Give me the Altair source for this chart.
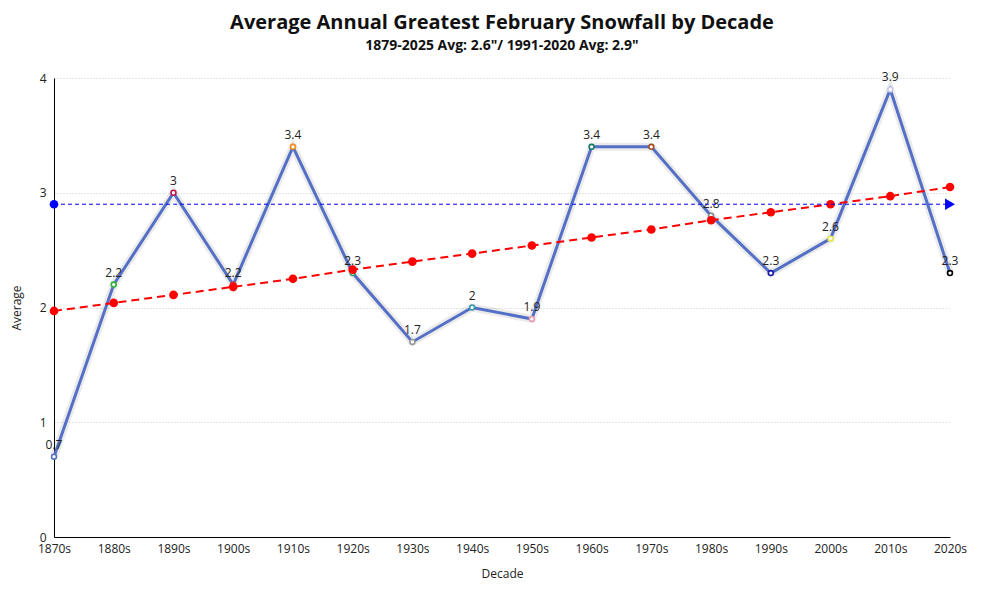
import altair as alt
import pandas as pd

decades = ["1870s", "1880s", "1890s", "1900s", "1910s", "1920s", "1930s", "1940s",
           "1950s", "1960s", "1970s", "1980s", "1990s", "2000s", "2010s", "2020s"]
averages = [0.7, 2.2, 3.0, 2.2, 3.4, 2.3, 1.7, 2.0, 1.9, 3.4, 3.4, 2.8, 2.3, 2.6, 3.9, 2.3]
trend = [1.97, 2.04, 2.11, 2.18, 2.25, 2.33, 2.40, 2.47, 2.54, 2.61, 2.68, 2.76,
         2.83, 2.90, 2.97, 3.05]
normal_value = 2.9
point_colors = ["#5470c6", "#33b233", "#c0144c", "#d04040", "#f08c1e", "#3a9a6a",
                "#999999", "#3399aa", "#e899b0", "#1e7a6a", "#a0522d", "#888888",
                "#1a1aa6", "#e6e64c", "#c8c8e8", "#000000"]

df = pd.DataFrame({
    "decade": decades,
    "avg": averages,
    "trend": trend,
    "normal": [normal_value] * len(decades),
})
df["label"] = [format(v, "g") for v in averages]

FONT = "Open Sans"

x = alt.X("decade:N", sort=decades,
          scale=alt.Scale(type="point", padding=0),
          axis=alt.Axis(title="Decade", labelAngle=0, ticks=False, grid=False,
                        domainColor="black", labelPadding=6, titlePadding=14,
                        labelFontSize=12, titleFontSize=12, titleFontWeight="normal",
                        labelColor="#222", titleColor="#222", labelFont=FONT, titleFont=FONT))
yscale = alt.Scale(domain=[0, 4], nice=False, zero=True)
yaxis = alt.Axis(title="Average", values=[0, 1, 2, 3, 4], format="d", ticks=False,
                 domainColor="black", gridColor="#cccccc", gridDash=[1, 2],
                 labelPadding=8, titlePadding=16,
                 labelFontSize=12, titleFontSize=12, titleFontWeight="normal",
                 labelColor="#222", titleColor="#222", labelFont=FONT, titleFont=FONT)

base = alt.Chart(df)

shadow = base.mark_line(color="#000000", strokeWidth=8, opacity=0.08).encode(
    x=x, y=alt.Y("avg:Q", scale=yscale, axis=yaxis))
main_line = base.mark_line(color="#5470c6", strokeWidth=3).encode(
    x=x, y=alt.Y("avg:Q", scale=yscale))
main_points = base.mark_point(shape="circle", fill="white", fillOpacity=1, strokeWidth=1.6,
                              size=24, opacity=1).encode(
    x=x, y=alt.Y("avg:Q", scale=yscale),
    stroke=alt.Stroke("decade:N", scale=alt.Scale(domain=decades, range=point_colors),
                      legend=None))
labels = base.mark_text(dy=-12, fontSize=12, color="#222", font=FONT).encode(
    x=x, y=alt.Y("avg:Q", scale=yscale), text="label:N")

trend_line = base.mark_line(color="red", strokeWidth=2, strokeDash=[8, 5]).encode(
    x=x, y=alt.Y("trend:Q", scale=yscale))
trend_points = base.mark_circle(color="red", size=75, opacity=1).encode(
    x=x, y=alt.Y("trend:Q", scale=yscale))

normal_line = base.mark_line(color="blue", strokeWidth=1, strokeDash=[4, 3]).encode(
    x=x, y=alt.Y("normal:Q", scale=yscale))
normal_start = base.transform_filter(alt.datum.decade == decades[0]).mark_circle(
    color="blue", size=75, opacity=1).encode(x=x, y=alt.Y("normal:Q", scale=yscale))
normal_end = base.transform_filter(alt.datum.decade == decades[-1]).mark_point(
    shape="triangle-right", filled=True, color="blue", size=130, opacity=1).encode(
    x=x, y=alt.Y("normal:Q", scale=yscale))

chart = alt.layer(
    shadow, main_line, main_points, labels, trend_line, trend_points,
    normal_line, normal_start, normal_end
).properties(
    width=896, height=459,
    autosize=alt.AutoSizeParams(type="none"),
    padding={"left": 46, "top": 70, "right": 42, "bottom": 55},
    title=alt.TitleParams(
        text="Average Annual Greatest February Snowfall by Decade",
        subtitle='1879-2025 Avg: 2.6"/ 1991-2020 Avg: 2.9"',
        anchor="middle", fontSize=20, fontWeight="bold", font=FONT, color="#111",
        subtitleFontSize=14, subtitleFontWeight="bold", subtitleFont=FONT,
        subtitleColor="#111", subtitlePadding=6, offset=18),
).configure(background="white").configure_view(strokeWidth=0)

chart.save("out.html", embed_options={"renderer": "svg", "actions": False})
